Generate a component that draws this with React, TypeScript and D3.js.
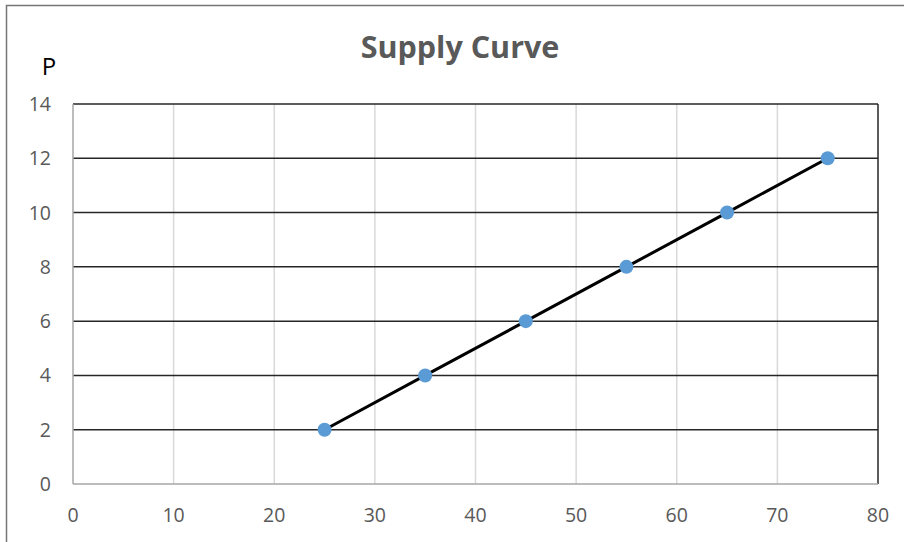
import React from "react";
import * as d3 from "d3";

const quantities = [25, 35, 45, 55, 65, 75];
const prices = [2, 4, 6, 8, 10, 12];
const xTicks = [0, 10, 20, 30, 40, 50, 60, 70, 80];
const yTicks = [0, 2, 4, 6, 8, 10, 12, 14];
const title = "Supply Curve";
const yLabel = "P";

const W = 904;
const H = 542;
const FONT = "'Open Sans', 'Noto Sans', sans-serif";

export default function App() {
  const x = d3.scaleLinear().domain([0, 80]).range([73, 878]);
  const y = d3.scaleLinear().domain([0, 14]).range([484, 104]);
  const pts = quantities.map((q, i) => [q, prices[i]] as [number, number]);
  const line = d3
    .line<[number, number]>()
    .x((d) => x(d[0]))
    .y((d) => y(d[1]));

  return (
    <svg
      width={W}
      height={H}
      style={{ position: "absolute", left: 0, top: 0, background: "#fff" }}
    >
      <rect x={0} y={0} width={W} height={H} fill="#fff" />
      <rect
        x={6.5}
        y={5.5}
        width={W + 10}
        height={H + 10}
        fill="#fff"
        stroke="#767676"
        strokeWidth={1.5}
      />
      <text
        x={460}
        y={58}
        textAnchor="middle"
        fontFamily={FONT}
        fontWeight="bold"
        fontSize={30.5}
        fill="#595959"
      >
        {title}
      </text>
      <text x={49} y={75} textAnchor="middle" fontFamily={FONT} fontSize={24} fill="#000">
        {yLabel}
      </text>
      {/* vertical gridlines */}
      {xTicks.map((t) =>
        t === 0 || t === 80 ? null : (
          <line
            key={"vx" + t}
            x1={x(t)}
            x2={x(t)}
            y1={y(14)}
            y2={y(0)}
            stroke="#d9d9d9"
            strokeWidth={1.5}
          />
        )
      )}
      {/* horizontal gridlines */}
      {yTicks.map((t) =>
        t === 0 ? null : (
          <line
            key={"hy" + t}
            x1={x(0)}
            x2={x(80)}
            y1={y(t)}
            y2={y(t)}
            stroke="#262626"
            strokeWidth={1.5}
          />
        )
      )}
      {/* right border */}
      <line x1={x(80)} x2={x(80)} y1={y(14)} y2={y(0)} stroke="#262626" strokeWidth={1.5} />
      {/* axes */}
      <line x1={x(0)} x2={x(0)} y1={y(14)} y2={y(0)} stroke="#a6a6a6" strokeWidth={1.5} />
      <line x1={x(0)} x2={x(80)} y1={y(0)} y2={y(0)} stroke="#a6a6a6" strokeWidth={1.5} />
      {yTicks.map((t) => (
        <text
          key={"yt" + t}
          x={51}
          y={y(t) + 7}
          textAnchor="end"
          fontFamily={FONT}
          fontSize={19.5}
          fill="#595959"
        >
          {t}
        </text>
      ))}
      {xTicks.map((t) => (
        <text
          key={"xt" + t}
          x={x(t)}
          y={522}
          textAnchor="middle"
          fontFamily={FONT}
          fontSize={19.5}
          fill="#595959"
        >
          {t}
        </text>
      ))}
      <path d={line(pts) || ""} fill="none" stroke="#000" strokeWidth={3} />
      {pts.map((p, i) => (
        <circle key={"pt" + i} cx={x(p[0])} cy={y(p[1])} r={7} fill="#5b9bd5" />
      ))}
    </svg>
  );
}
